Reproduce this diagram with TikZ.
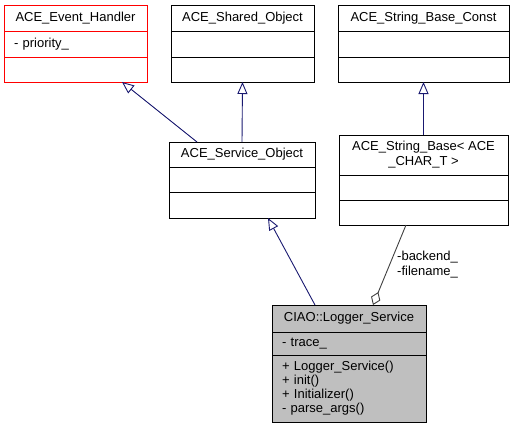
\documentclass[tikz,border=0pt]{standalone}
\usepackage{fontspec}
\setmainfont{Liberation Sans}
\usetikzlibrary{positioning,arrows.meta}

\definecolor{edgeblue}{HTML}{191970}
\definecolor{edgegrey}{HTML}{404040}
\definecolor{boxfill}{HTML}{BFBFBF}

\tikzset{
  head/.style={draw, line width=0.9pt, inner sep=0pt, outer sep=0pt, align=center,
    font=\fontsize{13}{15}\selectfont},
  part/.style={draw, line width=0.9pt, inner xsep=10pt, inner ysep=0pt, outer sep=0pt,
    align=left, font=\fontsize{13}{14}\selectfont},
  inherit/.style={draw=edgeblue, line width=0.9pt, -{Triangle[open, length=12pt, width=10pt]}},
  aggr/.style={draw=edgegrey, line width=0.9pt, {Diamond[open, length=14pt, width=10pt]}-},
  lbl/.style={align=left, inner sep=0pt, font=\fontsize{13}{15}\selectfont},
}

\begin{document}
\begin{tikzpicture}[x=1pt, y=-1pt]
  \useasboundingbox (0,0) rectangle (515,432);

  % base classes
  \node[head, draw=red, minimum width=143pt, minimum height=26pt, anchor=north west] (handler) at (4,5) {ACE\_Event\_Handler};
  \node[part, draw=red, text width=123pt, minimum height=26pt, below=0pt of handler] (handler-a) {- priority\_};
  \node[part, draw=red, text width=123pt, minimum height=25pt, below=0pt of handler-a] (handler-m) {};

  \node[head, minimum width=143pt, minimum height=26pt, anchor=north west] (shared) at (171,5) {ACE\_Shared\_Object};
  \node[part, text width=123pt, minimum height=26pt, below=0pt of shared] (shared-a) {};
  \node[part, text width=123pt, minimum height=25pt, below=0pt of shared-a] (shared-m) {};

  \node[head, minimum width=171pt, minimum height=26pt, anchor=north west] (const) at (338,5) {ACE\_String\_Base\_Const};
  \node[part, text width=151pt, minimum height=26pt, below=0pt of const] (const-a) {};
  \node[part, text width=151pt, minimum height=25pt, below=0pt of const-a] (const-m) {};

  % middle row
  \node[head, minimum width=146pt, minimum height=25pt, anchor=north west] (svc) at (169,142) {ACE\_Service\_Object};
  \node[part, text width=126pt, minimum height=25pt, below=0pt of svc] (svc-a) {};
  \node[part, text width=126pt, minimum height=26pt, below=0pt of svc-a] (svc-m) {};

  \node[head, minimum width=169pt, minimum height=40pt, anchor=north west] (strbase) at (339,135) {ACE\_String\_Base\textless{} ACE\\\_CHAR\_T \textgreater{}};
  \node[part, text width=149pt, minimum height=25pt, below=0pt of strbase] (strbase-a) {};
  \node[part, text width=149pt, minimum height=25pt, below=0pt of strbase-a] (strbase-m) {};

  % the documented class
  \node[head, fill=boxfill, minimum width=154pt, minimum height=27pt, anchor=north west] (logger) at (272,305) {CIAO::Logger\_Service};
  \node[part, fill=boxfill, text width=134pt, minimum height=23pt, below=0pt of logger] (logger-a) {- trace\_};
  \node[part, fill=boxfill, text width=134pt, minimum height=67pt, below=0pt of logger-a] (logger-m) {+ Logger\_Service()\\+ init()\\+ Initializer()\\- parse\_args()};

  % relations
  \draw[inherit] ([xshift=-45pt]svc.north) -- ([xshift=46.5pt]handler-m.south);
  \draw[inherit] (svc.north) -- (shared-m.south);
  \draw[inherit] (strbase.north) -- (const-m.south);
  \draw[inherit] ([xshift=-34pt]logger.north) -- ([xshift=26pt]svc-m.south);
  \draw[aggr] ([xshift=24pt]logger.north) -- ([xshift=-17.5pt]strbase-m.south);
  \node[lbl, anchor=west] (aggr-lbl) at (397,265) {-backend\_\\-filename\_};

\end{tikzpicture}
\end{document}
